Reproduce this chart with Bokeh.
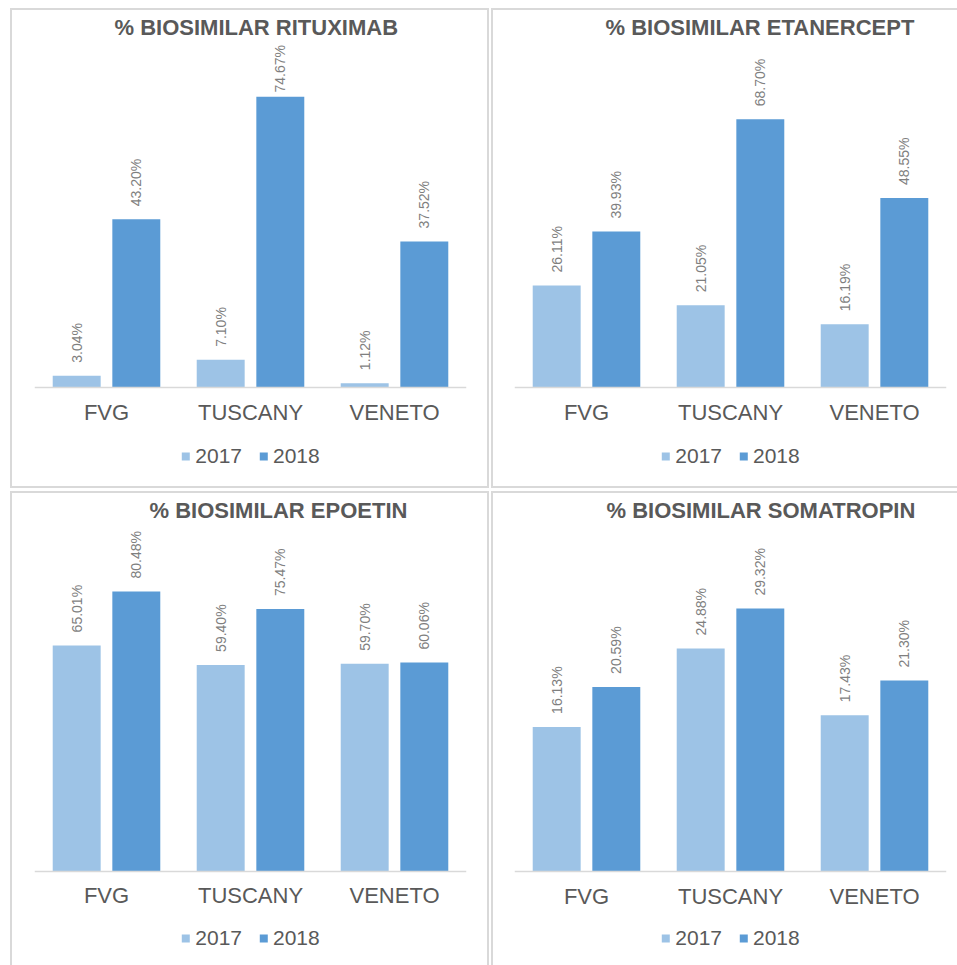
import math
from bokeh.plotting import figure
from bokeh.models import ColumnDataSource, FactorRange, Range1d, Legend, LegendItem, Spacer
from bokeh.layouts import column, row
from bokeh.transform import dodge
from bokeh.core.properties import value
from bokeh.embed import file_html
from bokeh.resources import INLINE

# ---------------- data ----------------
regions = ["FVG", "TUSCANY", "VENETO"]
years = ["2017", "2018"]

titles = ["% BIOSIMILAR RITUXIMAB", "% BIOSIMILAR ETANERCEPT",
          "% BIOSIMILAR EPOETIN", "% BIOSIMILAR SOMATROPIN"]

rituximab_2017 = [3.04, 7.10, 1.12]
rituximab_2018 = [43.20, 74.67, 37.52]
etanercept_2017 = [26.11, 21.05, 16.19]
etanercept_2018 = [39.93, 68.70, 48.55]
epoetin_2017 = [65.01, 59.40, 59.70]
epoetin_2018 = [80.48, 75.47, 60.06]
somatropin_2017 = [16.13, 24.88, 17.43]
somatropin_2018 = [20.59, 29.32, 21.30]

# value-axis extents (hidden axis, %); the region below 0 holds category labels + legend
y_top = [88.62, 88.37, 99.48, 38.59]
y_bottom = [-25.94, -25.87, -27.03, -10.48]

# ---------------- style ----------------
C17 = "#9DC3E6"
C18 = "#5B9BD5"
TXT = "#595959"
LBL = "#7F7F7F"
BORDER = "#D9D9D9"
FONT = "Liberation Sans"
TOP_BORDER = 34
LABEL_GAP = 13
LABEL_LEN = 49
TOP_PAD = 1


def panel(title, v17, v18, ylo, yhi, width, height, left, right, title_offset,
          legend_margin, shadow):
    s = (height - TOP_BORDER) / (yhi - ylo)          # px per %
    limit = yhi - (TOP_PAD + LABEL_LEN + LABEL_GAP) / s
    src = ColumnDataSource(dict(
        region=regions, v17=v17, v18=v18,
        l17=[f"{v:.2f}%" for v in v17], l18=[f"{v:.2f}%" for v in v18],
        y17=[min(v, limit) for v in v17], y18=[min(v, limit) for v in v18],
    ))
    p = figure(x_range=FactorRange(factors=regions), y_range=Range1d(ylo, yhi),
               width=width, height=height, output_backend="svg", toolbar_location=None,
               min_border_left=left, min_border_right=right, min_border_top=TOP_BORDER,
               min_border_bottom=0, border_fill_color=None, background_fill_color=None,
               outline_line_color=None, title=title)
    p.styles = {"box-shadow": shadow}
    p.title.text_font = FONT
    p.title.text_font_size = "22px"
    p.title.text_font_style = "bold"
    p.title.text_color = TXT
    p.title.align = "left"
    p.title.offset = title_offset
    p.title.standoff = 5

    r17 = p.vbar(x=dodge("region", -0.207, range=p.x_range), top="v17", bottom=0,
                 width=0.333, source=src, fill_color=C17, line_color=None)
    r18 = p.vbar(x=dodge("region", 0.207, range=p.x_range), top="v18", bottom=0,
                 width=0.333, source=src, fill_color=C18, line_color=None)
    for xo, yk, lk in ((-0.207, "y17", "l17"), (0.207, "y18", "l18")):
        p.text(x=dodge("region", xo, range=p.x_range), y=yk, text=lk, source=src,
               angle=math.pi / 2, text_align="left", text_baseline="middle",
               y_offset=-LABEL_GAP, text_font=value(FONT), text_font_size="14px",
               text_color=LBL)

    p.yaxis.visible = False
    p.xgrid.visible = False
    p.ygrid.visible = False
    ax = p.xaxis[0]
    ax.fixed_location = 0
    ax.axis_line_color = BORDER
    ax.axis_line_width = 1.5
    ax.major_tick_line_color = None
    ax.minor_tick_line_color = None
    ax.major_label_text_font = FONT
    ax.major_label_text_font_size = "22px"
    ax.major_label_text_color = TXT
    ax.major_label_standoff = 6

    legend = Legend(items=[LegendItem(label=years[0], renderers=[r17]),
                           LegendItem(label=years[1], renderers=[r18])],
                    orientation="horizontal", location="bottom_center",
                    glyph_width=10, glyph_height=10, label_standoff=5, spacing=16,
                    label_text_font=FONT, label_text_font_size="21px",
                    label_text_color=TXT, border_line_color=None,
                    background_fill_alpha=0, padding=0, margin=legend_margin)
    p.add_layout(legend)
    return p


sh_all = f"inset 2px 0 0 0 {BORDER}, inset -2px 0 0 0 {BORDER}, inset 0 2px 0 0 {BORDER}, inset 0 -2px 0 0 {BORDER}"
sh_tlb = f"inset 2px 0 0 0 {BORDER}, inset 0 2px 0 0 {BORDER}, inset 0 -2px 0 0 {BORDER}"
sh_tlr = f"inset 2px 0 0 0 {BORDER}, inset -2px 0 0 0 {BORDER}, inset 0 2px 0 0 {BORDER}"
sh_tl = f"inset 2px 0 0 0 {BORDER}, inset 0 2px 0 0 {BORDER}"

p1 = panel(titles[0], rituximab_2017, rituximab_2018, y_bottom[0], y_top[0],
           479, 480, 24, 23, 80, 20, sh_all)
p2 = panel(titles[1], etanercept_2017, etanercept_2018, y_bottom[1], y_top[1],
           466, 480, 23, 11, 91, 20, sh_tlb)
p3 = panel(titles[2], epoetin_2017, epoetin_2018, y_bottom[2], y_top[2],
           479, 474, 24, 23, 115, 15, sh_tlr)
p4 = panel(titles[3], somatropin_2017, somatropin_2018, y_bottom[3], y_top[3],
           466, 474, 23, 11, 92, 15, sh_tl)

layout = column(
    Spacer(height=8),
    row(Spacer(width=10), p1, Spacer(width=2), p2),
    Spacer(height=3),
    row(Spacer(width=10), p3, Spacer(width=2), p4),
)

open("out.html", "w").write(file_html(layout, INLINE))
